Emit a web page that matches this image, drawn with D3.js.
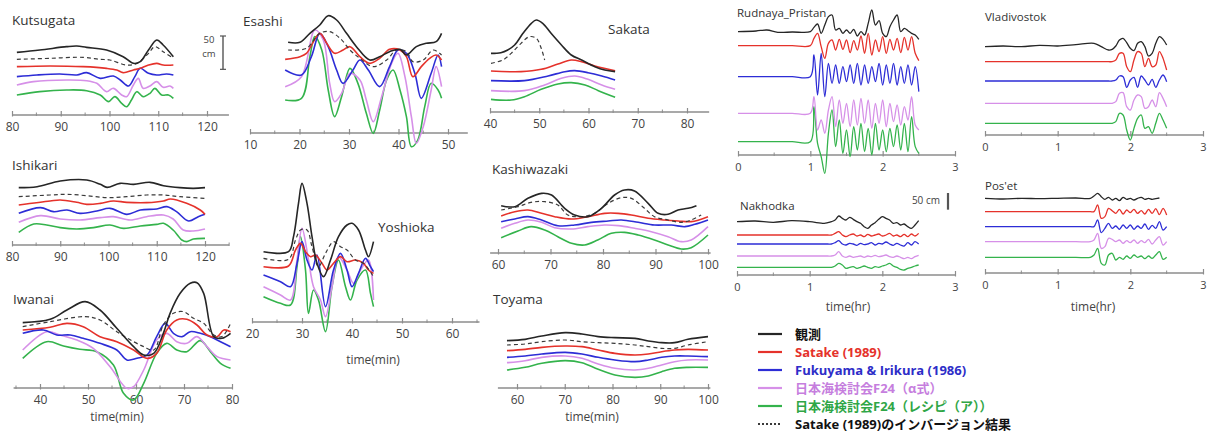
<!DOCTYPE html>
<html>
<head>
<meta charset="utf-8">
<script src="https://cdn.jsdelivr.net/npm/d3@7"></script>
<style>
  body { margin: 0; background: #fff; }
  svg { display: block; font-family: "Open Sans", "Noto Sans", "Noto Sans CJK JP", sans-serif; }
</style>
</head>
<body>
<svg id="chart" width="1213" height="437"></svg>
<script>
// ---- series definitions (draw order: bottom first) ----
const SERIES_KEYS = ["recipe", "alpha", "fukuyama", "satake", "inversion", "obs"];
const LEGEND_KEYS = ["obs", "satake", "fukuyama", "alpha", "recipe", "inversion"];
const LEGEND_LABELS = ["観測", "Satake (1989)", "Fukuyama & Irikura (1986)", "日本海検討会F24（α式）", "日本海検討会F24（レシピ（ア））", "Satake (1989)のインバージョン結果"];

// ---- Japanese coast stations: [time (min), offset water level (cm)] ----
const KUTSUGATA = {
  obs: [[81,94],[85.7,97.5],[91.2,102.5],[93.3,103.5],[95.3,101.5],[99.4,97.5],[102.8,87.5],[104.9,77.5],[106.3,80],[108,97.5],[109.7,112.5],[111,105],[113.1,87.5]],
  inversion: [[81,83.5],[87.8,85],[94.6,86.5],[98.1,83.5],[100.1,82.5],[103.5,75],[105.6,77.5],[108,92.5],[109.3,102.5],[111,95],[113.1,85]],
  satake: [[81,72.5],[87.8,73.5],[94.6,72.5],[99.4,70],[101.5,67.5],[102.8,63.5],[104.9,67.5],[106.3,70],[108,75],[109.7,77.5],[111,75],[113.1,75]],
  fukuyama: [[81,57.5],[85.1,60],[89.8,61.5],[93.3,60],[95.3,63.5],[98.1,55],[100.8,58.5],[102.2,52.5],[103.9,43.5],[105.2,57.5],[106.3,70],[108,62.5],[109.7,60],[111.7,61.5],[113.1,60]],
  alpha: [[81,45],[84.4,50],[91.2,52.5],[95.3,51.5],[97.4,47.5],[99.4,35],[100.8,40],[102.5,30],[103.5,27.5],[104.9,45],[105.9,55],[106.9,40],[108.3,43.5],[109.7,50],[111,41.5],[112.4,43.5],[113.1,40]],
  recipe: [[81,30],[85.7,35],[91.2,37.5],[95.3,36.5],[98.1,30],[99.8,20],[101.1,27.5],[102.5,17.5],[103.5,12.5],[104.5,22.5],[105.6,35],[106.9,27.5],[108.3,32.5],[109.3,40],[110.7,30],[112.1,30],[113.1,25]]
};

const ISHIKARI = {
  obs: [[81.4,86],[85.2,87.5],[90,96],[95.5,97.5],[98.3,91],[99.7,86.5],[102.4,92.5],[105.2,91],[108.6,94],[111.4,89],[114.8,86],[117.6,85],[120,86]],
  inversion: [[81.4,72.5],[87.9,75],[91.4,76],[95.5,74],[99.7,71],[103.8,72.5],[107.9,75],[111.4,75],[114.8,72.5],[120,70]],
  satake: [[81.4,60],[87.9,66],[90,67.5],[93.4,64],[95.5,61],[98.3,62.5],[101,66],[103.8,64],[107.9,63.5],[111.4,66],[112.8,69],[116.2,62.5],[119,52.5],[120,46]],
  fukuyama: [[81.4,47.5],[85.9,56],[88.6,50],[91.4,52.5],[94.1,47.5],[97.6,51],[100.3,55],[103.8,46],[106.6,52.5],[110,54],[112.1,57.5],[114.1,50],[116.6,36],[118.6,42.5],[120,46]],
  alpha: [[81.4,34],[85.9,44],[90,39],[94.1,37.5],[98.3,41],[101,42.5],[104.5,37.5],[107.9,42.5],[111.4,45],[113.4,39],[115.5,22.5],[117.6,21],[120,24]],
  recipe: [[81.4,19],[84.5,31.5],[87.2,30],[90,26],[93.4,24],[96.9,26],[100.3,30],[103.1,25],[106.6,28.5],[110,31],[111.4,32.5],[113.4,22.5],[115.2,7.5],[116.2,5],[117.6,9],[120,10]]
};

const IWANAI = {
  obs: [[36.4,98],[42.1,103],[45.6,117],[49.4,129.5],[52.5,117],[56,89.5],[59.5,62],[61.6,49.5],[63.7,52],[65.7,82],[67.1,112],[69.2,142],[71.3,157],[72.7,158],[74.1,142],[76.2,77],[77.9,74.5],[79.7,82]],
  inversion: [[36.4,92],[42.1,99.5],[49.4,107],[52.5,102],[56,84.5],[59.5,69.5],[61.6,62],[63.7,57],[65.7,94.5],[67.8,112],[69.9,114.5],[72,104.5],[74.1,97],[76.2,79.5],[77.9,77],[79.7,97]],
  satake: [[36.4,87],[42.1,91],[45.6,97],[49,92],[52.5,77],[56,69.5],[59.5,57],[62.3,44.5],[64.3,52],[66.4,87],[68.5,102],[70.6,103],[72.7,94.5],[74.8,79.5],[76.9,77],[78.3,87],[79.7,84.5]],
  fukuyama: [[36.4,82],[40.7,87],[43.5,79.5],[46.3,79.5],[49,74.5],[52.5,67],[56,57],[58.1,42],[60.2,44.5],[62.3,49.5],[64.3,77],[66.1,97],[67.8,82],[69.6,77],[71.3,84.5],[73.4,82],[75.5,77],[77.6,69.5],[79.7,62]],
  alpha: [[36.4,57],[41.4,84.5],[44.2,79.5],[47.7,72],[51.1,59.5],[54.6,32],[58.1,-0.5],[59.5,2],[61.6,27],[64.3,72],[66.4,82],[68.5,69.5],[70.6,67],[72.7,77],[74.8,62],[76.9,47],[79.7,42]],
  recipe: [[36.4,44.5],[41.4,69.5],[44.9,63],[48.3,58],[51.8,54.5],[55.3,34.5],[57.4,-8],[59.5,-18],[61.6,7],[64.3,52],[66.4,67],[68.5,57],[70.6,54.5],[73.4,71],[75.5,54.5],[77.6,37],[79.7,29.5]]
};

const ESASHI = {
  obs: [[17.7,136],[20.1,136],[22.1,149.5],[24.1,162],[25.8,176],[27.5,169.5],[29.5,149.5],[31.5,129.5],[34.2,109.5],[36.2,114.5],[38.2,122],[40.3,125.5],[41.6,117],[43.6,129.5],[45.6,134.5],[47.6,137],[48.7,149.5]],
  inversion: [[17.7,124.5],[21.4,127],[24.1,149.5],[26.1,152],[28.2,142],[30.2,124.5],[32.2,112],[34.9,99.5],[37.6,109.5],[39.6,124.5],[41.6,122],[42.9,107],[45,109.5],[47,124.5],[48.7,117]],
  satake: [[17.1,110.5],[20.1,114.5],[21.4,119.5],[24.1,149.5],[25.5,134.5],[27.1,119.5],[28.8,124.5],[30.2,129.5],[32.2,114.5],[34.2,104.5],[36.2,112],[38.2,125.5],[40.3,124.5],[41.6,114.5],[42.9,84.5],[44.6,99.5],[46.3,112],[47.6,117],[48.7,109.5]],
  fukuyama: [[17.1,94.5],[20.4,87],[22.4,114.5],[24.1,149.5],[25.8,129.5],[27.5,94.5],[28.8,74.5],[30.8,94.5],[32.2,109.5],[33.9,94.5],[36.2,69.5],[38.2,99.5],[39.9,124.5],[41.6,119.5],[43.3,89.5],[44.6,52],[46.6,89.5],[48,117],[48.7,99.5]],
  alpha: [[17.1,69.5],[20.4,84.5],[23.1,154.5],[24.8,139.5],[26.1,74.5],[27.1,47],[28.5,59.5],[30.2,89.5],[32.2,79.5],[33.5,49.5],[34.9,17],[36.6,54.5],[38.6,104.5],[39.9,119.5],[41.3,84.5],[42.6,24.5],[43.6,-15.5],[45,9.5],[46.6,64.5],[47.6,99.5],[48.7,69.5]],
  recipe: [[17.1,49.5],[20.4,52],[22.1,114.5],[23.1,144.5],[24.5,124.5],[25.8,64.5],[27.1,24.5],[28.5,54.5],[30.2,97],[31.8,74.5],[33.5,29.5],[34.9,-0.5],[36.2,34.5],[37.6,79.5],[38.9,94.5],[40.3,64.5],[41.6,24.5],[42.6,-20.5],[43.9,-10.5],[45.3,39.5],[46.6,74.5],[48,64.5],[48.7,52]]
};

const YOSHIOKA = {
  obs: [[22.3,105.5],[27.3,105.5],[28.3,128],[29.3,178],[30,208],[31,178],[32,128],[33,88],[34.3,68],[35.7,93],[37.3,128],[39,145.5],[40,148],[41.3,138],[42.7,108],[43.3,98],[44.3,120.5]],
  inversion: [[22.3,95.5],[27.3,94],[28.7,123],[29.7,138],[31,138],[32,113],[33.3,83],[34.7,103],[36.3,120.5],[37.7,113],[39,108],[40.7,93],[42.3,88],[44.3,68]],
  satake: [[22.3,83],[27.3,84],[28.7,108],[29.7,118],[30.7,105.5],[31.7,98],[32.7,100.5],[34,88],[35,78],[36.3,88],[37.7,98],[39,90.5],[40.7,93],[42.3,88],[43.3,78],[44.3,73]],
  fukuyama: [[22.3,70.5],[25.7,60.5],[27.7,53],[29,88],[30,120.5],[31,93],[32,78],[33,100.5],[34.7,23],[36.3,78],[37.7,103],[39,78],[40,53],[41.3,73],[42.7,95.5],[43.7,83],[44.3,75.5]],
  alpha: [[22.3,53],[25.7,40.5],[27.7,33],[29,93],[30,140.5],[31.3,93],[32.3,53],[33.7,33],[34.7,8],[36,53],[37.3,98],[39,78],[40.3,58],[41.7,78],[43.3,93],[44.3,33]],
  recipe: [[22.3,38],[25.7,28],[27.7,25.5],[29,83],[29.7,128],[30.7,78],[31.3,13],[32.3,48],[33.3,33],[34.7,-14.5],[36,53],[37.3,93],[38.7,53],[39.7,33],[41,63],[42.7,78],[43.7,43],[44.3,23]]
};

const SAKATA = {
  obs: [[40.2,88],[42.2,89],[43.6,93],[45,100.5],[46.7,118],[48.4,133],[49.4,138],[50.7,133],[52.4,118],[54.5,100.5],[56.5,85.5],[58.6,78],[61.3,68],[63.3,63],[65.4,60.5]],
  inversion: [[40.2,73],[42.6,78],[44.3,88],[46.3,103],[48,113],[49.4,110.5],[50.4,95.5],[51.1,78]],
  satake: [[40.2,61.5],[46.3,60.5],[50.4,64],[53.8,72],[56.5,78],[58.6,75.5],[61.3,69],[65.4,62]],
  fukuyama: [[40.2,47],[47,47],[51.8,54],[55.2,60.5],[57.2,62],[59.9,59],[62.7,54],[65.4,48]],
  alpha: [[40.2,32],[47,32],[51.1,40.5],[54.5,50.5],[57.2,54],[59.9,49],[62.7,40.5],[65.4,34]],
  recipe: [[40.2,19],[44.3,18],[47,23],[50.4,34],[53.8,42],[56.5,44],[59.3,40.5],[62,32],[65.4,22]]
};

const KASHIWAZAKI = {
  obs: [[60.6,71],[63.2,69.5],[65.7,82],[68.3,89.5],[70.2,87],[72.7,67],[74.6,57],[77.1,54.5],[79.7,67],[82.2,87],[84.1,94.5],[86,93],[88.6,74.5],[90.5,59.5],[92.4,58],[94.3,64.5],[96.2,67],[97.8,71]],
  inversion: [[60.6,64.5],[63.8,69.5],[66.3,76],[68.9,77],[71.4,72],[73.3,57],[75.9,54.5],[78.4,59.5],[81,74.5],[83.5,83],[85.4,82],[87.9,67],[89.8,54.5],[92.4,49.5],[94.9,46],[96.8,49.5],[98.7,57]],
  satake: [[60.6,55.5],[63.2,62],[65.7,64.5],[68.3,59.5],[70.8,54.5],[74,51],[77.1,54.5],[80.3,59.5],[82.9,59.5],[85.4,57],[88.6,52],[91.7,49.5],[94.3,48],[96.8,47],[100,54.5]],
  fukuyama: [[60.6,47],[63.2,51],[65.7,54.5],[68.3,49.5],[71.4,41],[74.6,42],[77.8,46],[81,48],[83.5,49.5],[86.7,46],[89.8,42],[93,42],[95.6,39.5],[97.5,43],[100,49.5]],
  alpha: [[60.6,37],[63.2,44.5],[65.7,49.5],[68.3,46],[70.8,38],[74,36],[77.1,39.5],[80.3,42],[82.9,41],[86,37],[89.2,32],[92.4,24.5],[94.9,17],[96.8,19.5],[100,39.5]],
  recipe: [[60.6,23],[63.8,33],[66.3,39.5],[68.9,34.5],[71.4,24.5],[74,14.5],[76.5,12],[79,19.5],[81.6,29.5],[84.1,31],[86.7,27],[89.8,19.5],[92.4,12],[94.9,6],[96.8,8],[100,27]]
};

const TOYAMA = {
  t: [57.9,61.7,65.2,70.1,73.6,77,80.5,84.7,87.5,90.3,93,95.8,100],
  obs: [71,73,78,83,81,77,75.5,74.5,70.5,68,68,73,77],
  inversion: [64.5,66,69.5,72,69.5,68,67,64.5,62,59.5,59.5,64.5,69.5],
  satake: [56,58,61,63,62,57,52,49.5,51,54.5,57,58,57],
  fukuyama: [46,48,51,53.5,51,46,42,39.5,42,46,48,48,47],
  alpha: [38,41,46,48,44.5,36,29.5,27,29.5,34.5,39.5,42,42],
  recipe: [27,31,37,41,38,28,19.5,16,18,24.5,29.5,31,31]
};

// ---- Russian coast stations: time (hr), offset water level (cm) ----
const RUDNAYA = {
  t: [0,0.25,0.4,0.55,0.75,1.00,1.05,1.10,1.15,1.20,1.25,1.30,1.35,1.40,1.45,1.50,1.55,1.60,1.65,1.70,1.75,1.80,1.85,1.90,1.95,2.00,2.05,2.10,2.15,2.20,2.25,2.30,2.35,2.40,2.45,2.50],
  obs: [370,372,375,368,369,370,383,393,365,390,415,420,375,380,365,375,365,377,357,370,360,395,435,390,403,365,355,385,405,420,370,380,373,365,360,347],
  satake: [328,328,328,328,328,328,350,365,325,290,335,345,315,347,317,345,307,343,315,357,305,365,300,345,310,355,305,347,315,350,307,353,315,355,305,283],
  fukuyama: [235,235,235,235,235,235,300,180,305,175,275,215,270,215,265,220,270,215,275,210,270,215,265,220,275,210,270,215,275,210,265,215,270,210,265,190],
  alpha: [125,125,125,125,125,125,175,75,105,65,135,175,85,165,95,155,85,165,90,170,95,165,80,155,95,165,85,155,100,150,90,145,105,175,90,75],
  recipe: [40,40,40,40,40,40,145,35,-5,-55,65,135,25,105,5,75,-5,85,15,95,10,80,0,95,15,75,10,80,25,90,15,95,10,115,25,5]
};

const VLADIVOSTOK = {
  t: [0,0.25,0.5,0.75,1.0,1.25,1.5,1.6,1.7,1.75,1.80,1.85,1.90,1.95,2.00,2.05,2.10,2.15,2.20,2.25,2.30,2.35,2.40,2.45,2.50],
  obs: [265,267,265,269,267,271,275,265,255,257,267,285,290,277,260,253,275,280,265,237,245,275,295,287,270],
  satake: [220,220,220,220,220,220,220,220,220,220,225,245,245,205,190,225,250,245,205,230,205,210,250,230,195],
  fukuyama: [162,162,162,162,162,162,162,162,162,162,165,177,175,143,165,173,143,177,165,150,167,143,165,180,160],
  alpha: [95,95,95,95,95,95,95,95,95,95,100,125,127,85,75,105,120,115,80,85,105,85,127,110,85],
  recipe: [35,35,35,35,35,35,35,35,35,35,40,65,60,15,-15,20,50,60,20,25,5,35,65,45,20]
};

const NAKHODKA = {
  t: [0,0.25,0.5,0.75,1.0,1.2,1.25,1.30,1.35,1.40,1.45,1.50,1.55,1.60,1.65,1.70,1.75,1.80,1.85,1.90,1.95,2.00,2.05,2.10,2.15,2.20,2.25,2.30,2.35,2.40,2.45,2.50],
  obs: [160,162,158,163,160,155,157,160,165,177,170,165,173,167,160,155,145,140,150,157,167,175,170,165,155,157,150,153,145,140,150,163],
  satake: [120,120,120,120,120,120,120,120,125,130,120,115,120,123,117,120,115,122,117,120,123,117,120,125,117,120,115,122,115,123,117,125],
  fukuyama: [93,93,93,93,93,93,93,93,97,103,93,90,95,93,89,95,91,93,97,90,95,93,99,93,89,95,90,87,97,90,100,93],
  alpha: [57,57,57,57,57,57,57,57,60,70,57,53,57,53,55,57,53,57,55,59,55,57,60,55,53,57,53,49,53,49,55,59],
  recipe: [23,23,23,23,23,23,23,23,27,35,30,20,23,25,20,23,27,23,20,25,23,27,30,35,27,23,17,15,20,23,27,30]
};

const POSET = {
  t: [0,0.25,0.5,0.75,1.0,1.25,1.45,1.50,1.55,1.60,1.65,1.70,1.75,1.80,1.85,1.90,1.95,2.00,2.05,2.10,2.15,2.20,2.25,2.30,2.35,2.40,2.45,2.50],
  obs: [224,222,224,223,224,225,224,231,239,229,221,227,219,224,217,227,221,224,219,224,227,221,224,221,223,225,null,null],
  satake: [184,184,184,184,184,184,184,184,204,164,169,194,187,179,191,177,189,181,191,179,187,177,191,179,193,175,194,174],
  fukuyama: [139,139,139,139,139,139,139,139,159,121,134,149,134,141,131,144,134,144,131,141,134,147,131,143,134,154,129,139],
  alpha: [94,94,94,94,94,94,94,99,119,74,79,104,101,94,99,89,97,91,99,89,97,91,101,87,99,109,84,94],
  recipe: [47,47,47,47,47,47,47,54,74,29,24,54,59,39,47,41,51,44,54,47,51,43,51,44,54,64,41,47]
};

// ---- panel layout ----
const PANELS = [
  { title: "Kutsugata", data: KUTSUGATA, unit: "min", dom: [80, 120], rng: [12, 207], line: [80, 124.5], axisY: 115, ticks: [80, 90, 100, 110, 120], minor: 5, tx: 12, ty: 25 },
  { title: "Ishikari", data: ISHIKARI, unit: "min", dom: [80, 120], rng: [12, 205], line: [80, 125], axisY: 245, ticks: [80, 90, 100, 110, 120], minor: 5, tx: 12, ty: 170 },
  { title: "Iwanai", data: IWANAI, unit: "min", dom: [40, 80], rng: [40, 232], line: [34.5, 80], axisY: 388, ticks: [40, 50, 60, 70, 80], minor: 5, tx: 13, ty: 304, xlabel: "time(min)", lx: 117, ly: 421 },
  { title: "Esashi", data: ESASHI, unit: "min", dom: [10, 50], rng: [250, 448], line: [10, 54], axisY: 133, ticks: [10, 20, 30, 40, 50], minor: 5, tx: 243, ty: 26 },
  { title: "Yoshioka", data: YOSHIOKA, unit: "min", dom: [20, 60], rng: [252, 452], line: [20, 65.5], axisY: 322, ticks: [20, 30, 40, 50, 60], minor: 5, tx: 378, ty: 232, xlabel: "time(min)", lx: 373, ly: 364 },
  { title: "Sakata", data: SAKATA, unit: "min", dom: [40, 80], rng: [490, 687], line: [40, 84.5], axisY: 112, ticks: [40, 50, 60, 70, 80], minor: 5, tx: 608, ty: 34 },
  { title: "Kashiwazaki", data: KASHIWAZAKI, unit: "min", dom: [60, 100], rng: [498, 708], line: [58.5, 100.5], axisY: 253, ticks: [60, 70, 80, 90, 100], minor: 5, tx: 492, ty: 174 },
  { title: "Toyama", data: TOYAMA, unit: "min", dom: [60, 100], rng: [517, 708], line: [56, 100.5], axisY: 388, ticks: [60, 70, 80, 90, 100], minor: 5, tx: 493, ty: 304, xlabel: "time(min)", lx: 592, ly: 421 },
  { title: "Rudnaya_Pristan", data: RUDNAYA, unit: "hr", dom: [0, 3], rng: [738, 955], line: [0, 3], axisY: 155, ticks: [0, 1, 2, 3], minor: 0.5, tx: 737, ty: 17 },
  { title: "Vladivostok", data: VLADIVOSTOK, unit: "hr", dom: [0, 3], rng: [985, 1203], line: [0, 3], axisY: 135, ticks: [0, 1, 2, 3], minor: 0.5, tx: 985, ty: 21 },
  { title: "Nakhodka", data: NAKHODKA, unit: "hr", dom: [0, 3], rng: [737, 955], line: [0, 3], axisY: 275, ticks: [0, 1, 2, 3], minor: 0.5, tx: 740, ty: 210, xlabel: "time(hr)", lx: 848, ly: 311 },
  { title: "Pos'et", data: POSET, unit: "hr", dom: [0, 3], rng: [985, 1203], line: [0, 3], axisY: 273, ticks: [0, 1, 2, 3], minor: 0.5, tx: 985, ty: 190, xlabel: "time(hr)", lx: 1093, ly: 311 }
];

const CM_PER_PX = { min: 1.5, hr: 3 };
const COLORS = { obs: "#262626", inversion: "#3a3a3a", satake: "#e5322b", fukuyama: "#2d2dd6", alpha: "#d690e8", recipe: "#34b34c" };
const TEXT_COLORS = { obs: "#111", inversion: "#111", satake: "#e5322b", fukuyama: "#2d2dc8", alpha: "#c67ede", recipe: "#2fa646" };
const AXIS_COLOR = "#8c8c8c";

const svg = d3.select("#chart");

function seriesPoints(data, key) {
  if (data.t) return data.t.map((t, i) => [t, data[key][i]]);
  return data[key];
}

PANELS.forEach(p => {
  const x = d3.scaleLinear().domain(p.dom).range(p.rng);
  const k = CM_PER_PX[p.unit];
  const y = d3.scaleLinear().domain([0, 50]).range([p.axisY, p.axisY - 50 / k]);
  const g = svg.append("g");
  const small = p.unit === "hr";

  // title
  g.append("text").attr("x", p.tx).attr("y", p.ty)
    .attr("font-size", small ? 11.5 : 13.5).attr("fill", "#333").text(p.title);

  // axis line
  g.append("line")
    .attr("x1", x(p.line[0])).attr("x2", x(p.line[1]))
    .attr("y1", p.axisY).attr("y2", p.axisY)
    .attr("stroke", AXIS_COLOR).attr("stroke-width", 1.6);

  // minor ticks
  const minorTicks = d3.range(Math.ceil(p.line[0] / p.minor) * p.minor, p.line[1] + 1e-9, p.minor)
    .filter(v => !p.ticks.includes(v));
  g.selectAll("line.minor").data(minorTicks).join("line").attr("class", "minor")
    .attr("x1", d => x(d)).attr("x2", d => x(d))
    .attr("y1", p.axisY - 2.5).attr("y2", p.axisY + 1)
    .attr("stroke", AXIS_COLOR).attr("stroke-width", 1);

  // major ticks and labels
  const axis = d3.axisBottom(x).tickValues(p.ticks).tickSize(-4).tickPadding(small ? 8 : 7)
    .tickFormat(d3.format("d"));
  const ag = g.append("g").attr("transform", `translate(0,${p.axisY})`).call(axis);
  ag.select(".domain").remove();
  ag.selectAll(".tick line").attr("stroke", AXIS_COLOR).attr("stroke-width", 1.2).attr("y2", -4).attr("y1", 1.5);
  ag.selectAll(".tick text").attr("fill", "#444").attr("font-size", small ? 11 : 12)
    .attr("font-family", "'Open Sans', sans-serif");

  if (p.xlabel) {
    g.append("text").attr("x", p.lx).attr("y", p.ly).attr("text-anchor", "middle")
      .attr("font-size", 12).attr("fill", "#444").text(p.xlabel);
  }

  // waveforms
  const line = d3.line()
    .defined(d => d[1] != null)
    .x(d => x(d[0])).y(d => y(d[1]))
    .curve(d3.curveCatmullRom.alpha(0.5));

  SERIES_KEYS.forEach(key => {
    if (!p.data[key]) return;
    const path = g.append("path")
      .datum(seriesPoints(p.data, key))
      .attr("d", line)
      .attr("fill", "none")
      .attr("stroke", COLORS[key])
      .attr("stroke-linejoin", "round")
      .attr("stroke-width", small ? 1.3 : 1.6);
    if (key === "inversion") path.attr("stroke-dasharray", "4,3").attr("stroke-width", 1.2);
  });
});

// ---- 50 cm scale bars ----
function scaleBar(x, yTop, k, caps) {
  const s = d3.scaleLinear().domain([0, 50]).range([yTop + 50 / k, yTop]);
  svg.append("line").attr("x1", x).attr("x2", x).attr("y1", s(0)).attr("y2", s(50))
    .attr("stroke", "#555").attr("stroke-width", caps ? 1.4 : 2.2);
  if (caps) {
    [0, 50].forEach(v => svg.append("line").attr("x1", x - 3).attr("x2", x + 3)
      .attr("y1", s(v)).attr("y2", s(v)).attr("stroke", "#555").attr("stroke-width", 1.2));
  }
}
scaleBar(223, 36, CM_PER_PX.min, true);
svg.append("text").attr("x", 209).attr("y", 43).attr("text-anchor", "middle").attr("font-size", 9.5).attr("fill", "#444").text("50");
svg.append("text").attr("x", 209).attr("y", 57).attr("text-anchor", "middle").attr("font-size", 9.5).attr("fill", "#444").text("cm");
scaleBar(948, 193, CM_PER_PX.hr, false);
svg.append("text").attr("x", 940).attr("y", 204).attr("text-anchor", "end").attr("font-size", 10).attr("fill", "#444").text("50 cm");

// ---- legend ----
const legend = svg.append("g").attr("transform", "translate(758,334)");
LEGEND_KEYS.forEach((key, i) => {
  const row = legend.append("g").attr("transform", `translate(0,${i * 18})`);
  const ln = row.append("line").attr("x1", 0).attr("x2", 24).attr("y1", 0).attr("y2", 0)
    .attr("stroke", COLORS[key]).attr("stroke-width", 2.2);
  if (key === "inversion") ln.attr("stroke-dasharray", "2,2").attr("stroke-width", 2);
  row.append("text").attr("x", 37).attr("y", 0).attr("dy", "0.35em")
    .attr("font-size", 13).attr("font-weight", "bold")
    .attr("font-family", "'Open Sans', 'Noto Sans CJK JP', sans-serif")
    .attr("fill", TEXT_COLORS[key]).text(LEGEND_LABELS[i]);
});
</script>
</body>
</html>
